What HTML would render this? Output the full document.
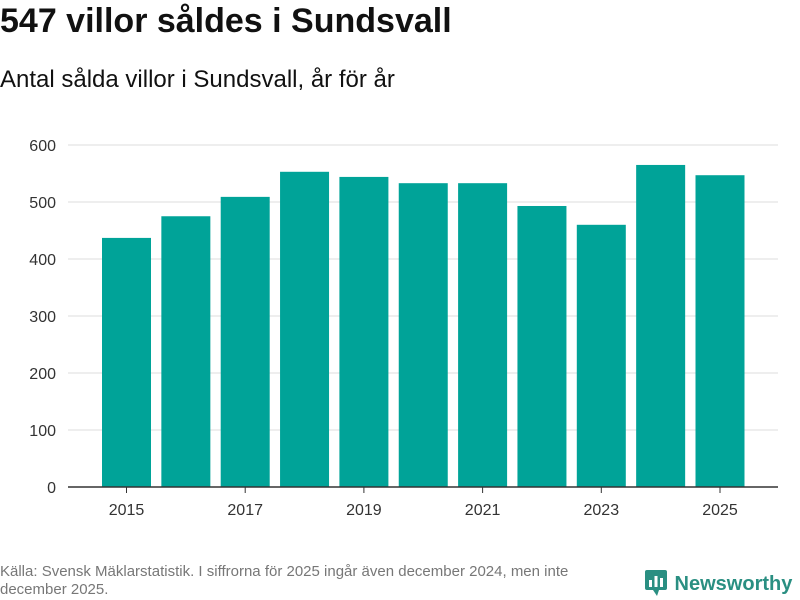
<!DOCTYPE html>
<html><head><meta charset="utf-8"><style>
body{margin:0;width:800px;height:600px;background:#fff;font-family:"Liberation Sans","DejaVu Sans",sans-serif;color:#111;overflow:hidden;position:relative}
#title{position:absolute;left:0;top:2px;font-size:34px;font-weight:bold;margin:0}
#subtitle{position:absolute;left:0;top:66px;font-size:24px}
#source{position:absolute;left:0;top:563px;font-size:15px;color:#777;width:630px;line-height:18px}
#logo{position:absolute;left:645px;top:568px;font-size:20px;font-weight:bold;color:#2a8f82}
</style></head><body>
<h1 id="title">547 villor såldes i Sundsvall</h1>
<div id="subtitle">Antal sålda villor i Sundsvall, år för år</div>
<svg id="chart" width="800" height="600" style="position:absolute;left:0;top:0"></svg>
<div id="source">Källa: Svensk Mäklarstatistik. I siffrorna för 2025 ingår även december 2024, men inte december 2025.</div>
<div id="logo"><svg width="24" height="28" style="vertical-align:-6px"><rect x="0" y="2" width="22" height="20" rx="2" fill="#2a8f82"/><path d="M8 22 L12 28 L14 22Z" fill="#2a8f82"/><rect x="4" y="12" width="3" height="7" fill="#fff"/><rect x="9.5" y="8" width="3" height="11" fill="#fff"/><rect x="15" y="10" width="3" height="9" fill="#fff"/></svg> Newsworthy</div>
<script>
const years=[2015,2016,2017,2018,2019,2020,2021,2022,2023,2024,2025];
const values=[437,475,509,553,544,533,533,493,460,565,547];
const yTicks=[0,100,200,300,400,500,600];
const xTickLabels=[2015,2017,2019,2021,2023,2025];
const svg=document.getElementById('chart');
const NS='http://www.w3.org/2000/svg';
const y0=487,yTop=145,yMax=600;
const y=v=>y0-(v/yMax)*(y0-yTop);
const x=i=>126.5+i*59.35;
const bw=49;
function mk(t,a){const e=document.createElementNS(NS,t);for(const k in a)e.setAttribute(k,a[k]);svg.appendChild(e);return e;}
yTicks.forEach(t=>{
  if(t>0){const g=mk('line',{x1:68,x2:778,y1:y(t),y2:y(t),stroke:'#ddd','stroke-width':1});
  
  }
  const l=mk('text',{x:56,y:y(t)+6,'text-anchor':'end','font-size':16,fill:'#333','font-family':'Liberation Sans, sans-serif'});
  l.textContent=t;
  
  
});
values.forEach((v,i)=>{
  const r=mk('rect',{x:x(i)-bw/2,y:y(v),width:bw,height:y0-y(v),fill:'#00a398'});
  
  
});
const ax=mk('line',{x1:68,x2:778,y1:y0,y2:y0,stroke:'#333','stroke-width':1.5});


xTickLabels.forEach(yr=>{
  const i=years.indexOf(yr);
  const tk=mk('line',{x1:x(i),x2:x(i),y1:y0,y2:y0+6,stroke:'#333'});
  
  
  const l=mk('text',{x:x(i),y:515,'text-anchor':'middle','font-size':16,fill:'#333','font-family':'Liberation Sans, sans-serif'});
  l.textContent=yr;
  
  
});
</script>
</body></html>
